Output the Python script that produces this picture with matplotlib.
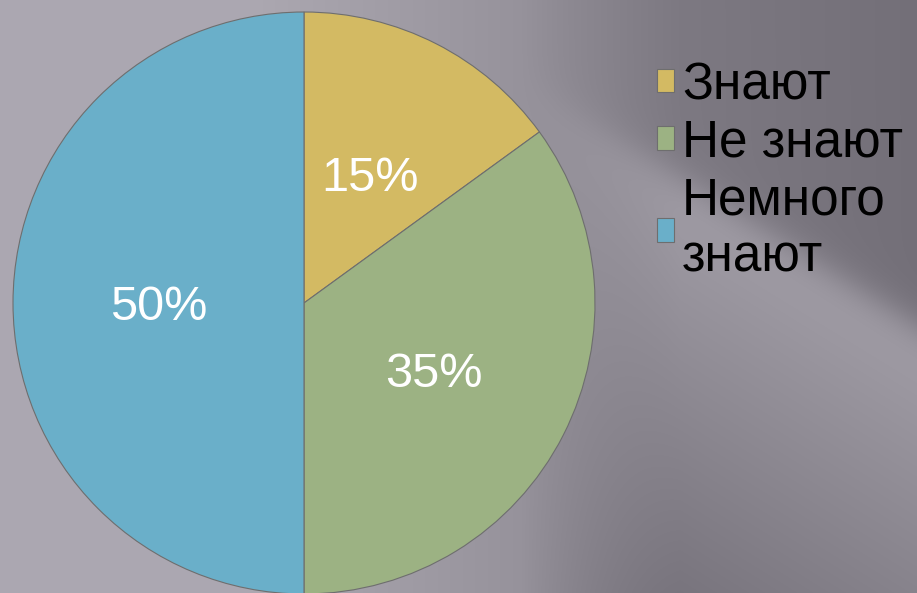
import matplotlib.pyplot as plt
import numpy as np

# Данные
labels = ['Знают', 'Не знают', 'Немного\nзнают']
values = [15, 35, 50]
colors = ['#d3ba63', '#9cb283', '#6aafc9']

plt.rcParams['font.family'] = ['Liberation Sans', 'DejaVu Sans']

W, H = 917, 593
fig = plt.figure(figsize=(W / 100, H / 100), dpi=100)

# Фон: серый градиент с мягкой диагональной светлой полосой
yy, xx = np.mgrid[0:H, 0:W].astype(float)
left = 172 - 0.08 * np.maximum(xx - 250, 0)
d = yy - 130 - (xx - 600) * 0.62
edge = 1 / (1 + np.exp(-d / 12))
dark = 128 - 0.04 * np.maximum(xx - 600, 0)
light = 162 - 0.10 * np.maximum(d, 0)
band = dark * (1 - edge) + light * edge
w = np.clip((xx - 520) / 160, 0, 1)
g = left * (1 - w) + band * w
g = np.clip(g, 108, 185)
bg = np.dstack([g, g - 4, g + 5]) / 255
bg_ax = fig.add_axes([0, 0, 1, 1], zorder=-1)
bg_ax.imshow(np.clip(bg, 0, 1), aspect='auto')
bg_ax.axis('off')

# Круговая диаграмма
cx, cy, r = 304, 303, 291
ax = fig.add_axes([(cx - r) / W, (H - cy - r) / H, 2 * r / W, 2 * r / H])
wedges, texts, autotexts = ax.pie(
    values, colors=colors, startangle=90, counterclock=False,
    autopct='%d%%', pctdistance=0.5,
    wedgeprops=dict(edgecolor='#6e6e6e', linewidth=0.8),
    textprops=dict(color='white', fontsize=35))
for t in autotexts:
    t.set_va('center_baseline')
ax.set_xlim(-1, 1)
ax.set_ylim(-1, 1)
ax.set_aspect('equal')

# Легенда
fig.legend(wedges, labels, loc='upper left', bbox_to_anchor=(657 / W, 1 - 61 / H),
           frameon=False, fontsize=37, handlelength=0.33, handleheight=0.33,
           handletextpad=0.16, labelspacing=0.17, borderaxespad=0, borderpad=0)

fig.savefig('out.png', dpi=100)
